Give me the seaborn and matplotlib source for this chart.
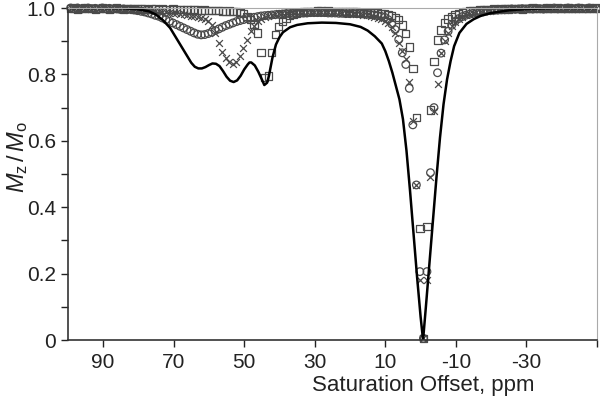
import numpy as np
import matplotlib
matplotlib.use('Agg')
import matplotlib.pyplot as plt
import seaborn as sns

# Saturation offsets (ppm) at which the three measured series were sampled
offsets = np.arange(99.2, -50.0, -1.0)

# Open circles
circles = [
    1.0, 0.998, 1.0, 0.997, 0.999, 1.0, 0.998, 0.999, 0.997, 1.0,
    0.998, 0.999, 0.997, 0.998, 0.996, 0.997, 0.995, 0.996, 0.994, 0.992,
    0.99, 0.988, 0.985, 0.982, 0.978, 0.975, 0.97, 0.965, 0.96, 0.955,
    0.95, 0.945, 0.94, 0.935, 0.93, 0.925, 0.921, 0.919, 0.92, 0.923,
    0.927, 0.932, 0.937, 0.942, 0.947, 0.951, 0.955, 0.959, 0.962, 0.965,
    0.968, 0.97, 0.972, 0.974, 0.976, 0.977, 0.978, 0.979, 0.98, 0.981,
    0.982, 0.983, 0.983, 0.984, 0.984, 0.985, 0.985, 0.985, 0.986, 0.986,
    0.986, 0.986, 0.986, 0.985, 0.985, 0.985, 0.984, 0.984, 0.983, 0.983,
    0.984, 0.983, 0.983, 0.982, 0.981, 0.98, 0.979, 0.977, 0.975, 0.972,
    0.965, 0.952, 0.935, 0.905, 0.865, 0.83, 0.758, 0.648, 0.467, 0.206,
    0.005, 0.206, 0.504, 0.70, 0.805, 0.864, 0.904, 0.93, 0.948, 0.96,
    0.968, 0.974, 0.978, 0.981, 0.984, 0.986, 0.988, 0.99, 0.991, 0.992,
    0.993, 0.994, 0.995, 0.995, 0.996, 0.997, 0.996, 0.997, 0.998, 0.997,
    0.998, 0.997, 0.999, 0.998, 0.997, 0.999, 0.998, 1.0, 0.998, 0.999,
    0.998, 1.0, 0.999, 0.998, 1.0, 0.999, 0.998, 1.0, 0.999, 0.998,
]

# Crosses
crosses = [
    0.999, 1.0, 0.998, 0.999, 0.997, 1.0, 0.999, 0.998, 1.0, 0.998,
    0.999, 0.998, 0.997, 0.999, 0.998, 0.997, 0.998, 0.997, 0.996, 0.997,
    0.996, 0.995, 0.994, 0.993, 0.992, 0.99, 0.989, 0.988, 0.986, 0.985,
    0.984, 0.983, 0.981, 0.979, 0.977, 0.975, 0.973, 0.97, 0.966, 0.96,
    0.95, 0.925, 0.895, 0.868, 0.848, 0.836, 0.83, 0.838, 0.855, 0.88,
    0.905, 0.93, 0.947, 0.96, 0.968, 0.973, 0.977, 0.98, 0.982, 0.984,
    0.985, 0.986, 0.987, 0.987, 0.988, 0.988, 0.988, 0.989, 0.989, 0.989,
    0.989, 0.989, 0.988, 0.988, 0.988, 0.987, 0.987, 0.986, 0.985, 0.984,
    0.983, 0.982, 0.981, 0.98, 0.978, 0.976, 0.974, 0.971, 0.967, 0.962,
    0.955, 0.942, 0.925, 0.895, 0.87, 0.846, 0.778, 0.66, 0.467, 0.18,
    0.005, 0.18, 0.49, 0.69, 0.77, 0.865, 0.90, 0.925, 0.945, 0.958,
    0.967, 0.973, 0.978, 0.982, 0.985, 0.987, 0.989, 0.99, 0.991, 0.992,
    0.993, 0.994, 0.994, 0.995, 0.996, 0.996, 0.997, 0.996, 0.997, 0.998,
    0.997, 0.998, 0.999, 0.997, 0.998, 0.999, 1.0, 0.998, 0.999, 0.998,
    1.0, 0.999, 0.998, 1.0, 0.999, 0.998, 0.999, 1.0, 0.998, 0.999,
]

# Open squares
squares = [
    0.998, 1.0, 0.997, 0.999, 1.0, 0.998, 0.999, 0.997, 0.998, 1.0,
    0.999, 0.997, 0.998, 1.0, 0.998, 0.997, 0.999, 0.998, 0.997, 0.998,
    0.997, 0.998, 0.996, 0.997, 0.998, 0.996, 0.997, 0.995, 0.996, 0.997,
    0.996, 0.995, 0.996, 0.995, 0.994, 0.995, 0.994, 0.993, 0.994, 0.993,
    0.992, 0.993, 0.992, 0.991, 0.99, 0.991, 0.99, 0.989, 0.987, 0.983,
    0.975, 0.965, 0.95, 0.925, 0.865, 0.79, 0.795, 0.865, 0.92, 0.945,
    0.96, 0.97, 0.977, 0.981, 0.984, 0.986, 0.988, 0.989, 0.99, 0.99,
    0.991, 0.991, 0.99, 0.991, 0.99, 0.99, 0.989, 0.99, 0.989, 0.989,
    0.988, 0.988, 0.987, 0.987, 0.986, 0.986, 0.985, 0.985, 0.984, 0.983,
    0.981, 0.978, 0.972, 0.965, 0.949, 0.924, 0.883, 0.818, 0.671, 0.336,
    0.005, 0.341, 0.693, 0.838, 0.904, 0.934, 0.955, 0.967, 0.975, 0.98,
    0.984, 0.987, 0.989, 0.991, 0.992, 0.993, 0.994, 0.995, 0.995, 0.996,
    0.997, 0.996, 0.997, 0.998, 0.997, 0.998, 0.999, 0.998, 0.997, 0.999,
    0.998, 1.0, 0.999, 0.998, 0.999, 1.0, 0.998, 0.999, 1.0, 0.998,
    0.999, 1.0, 0.998, 0.999, 1.0, 0.999, 0.998, 1.0, 0.999, 1.0,
]

# Solid simulated curve
fit_ppm = [
    100, 90, 84, 80, 77, 75, 73, 71, 69, 67, 65, 64, 63, 62, 61, 60, 59, 58,
    57, 56, 55, 54, 53, 52, 51, 50, 49, 48.5, 48, 47, 46, 45, 44.3, 43.5, 43,
    42, 41, 40, 39, 37, 35, 32, 28, 24, 20, 17, 15, 13, 11, 10, 9, 8, 7, 6, 5,
    4, 3, 2, 1, 0, -0.7, -1.5, -2.5, -3.5, -4.5, -5.5, -6.5, -7.5, -8.5, -9.5,
    -11, -13, -15, -17, -20, -25, -30, -40, -50,
]
fit_mz = [
    1.0, 1.0, 0.999, 0.996, 0.99, 0.98, 0.963, 0.94, 0.905, 0.87, 0.835, 0.823,
    0.818, 0.818, 0.822, 0.828, 0.833, 0.832, 0.825, 0.81, 0.793, 0.781, 0.777,
    0.782, 0.796, 0.815, 0.83, 0.836, 0.836, 0.827, 0.808, 0.785, 0.768, 0.775,
    0.795, 0.85, 0.89, 0.912, 0.927, 0.942, 0.949, 0.954, 0.956, 0.955, 0.951,
    0.943, 0.932, 0.915, 0.893, 0.87, 0.84, 0.805, 0.765, 0.725, 0.665, 0.57,
    0.45, 0.32, 0.19, 0.07, 0.0, 0.1, 0.23, 0.36, 0.49, 0.61, 0.71, 0.785,
    0.84, 0.885, 0.925, 0.952, 0.966, 0.976, 0.985, 0.993, 0.997, 1.0, 1.0,
]

sns.set_style("ticks")
plt.rcParams['font.family'] = ['Liberation Sans', 'DejaVu Sans']
plt.rcParams['axes.unicode_minus'] = False
plt.rcParams['mathtext.fontset'] = 'custom'
plt.rcParams['mathtext.it'] = 'Liberation Sans:italic'
plt.rcParams['mathtext.rm'] = 'Liberation Sans'

fig = plt.figure(figsize=(6, 4), dpi=100)
ax = fig.add_axes([0.113, 0.15, 0.882, 0.83])

mk = '#4a4a4a'
sns.scatterplot(x=offsets, y=circles, ax=ax, marker='o', s=30,
                facecolors='none', edgecolor=mk, linewidth=0.9, clip_on=False)
sns.scatterplot(x=offsets, y=crosses, ax=ax, marker='x', s=24,
                color=mk, linewidth=0.9, clip_on=False)
sns.scatterplot(x=offsets, y=squares, ax=ax, marker='s', s=28,
                facecolors='none', edgecolor=mk, linewidth=0.9, clip_on=False)
sns.lineplot(x=fit_ppm, y=fit_mz, ax=ax, color='black', linewidth=1.8,
             sort=False, estimator=None)

ax.set_xlim(100, -50)
ax.set_ylim(0, 1.0)
ax.set_xticks([90, 70, 50, 30, 10, -10, -30])
ax.set_xticks([-50], minor=True)
ax.set_yticks([0, 0.2, 0.4, 0.6, 0.8, 1.0])
ax.set_yticklabels(['0', '0.2', '0.4', '0.6', '0.8', '1.0'])
ax.set_yticks([0.1, 0.3, 0.5, 0.7, 0.9], minor=True)
ax.tick_params(axis='both', which='both', direction='out', length=5,
               width=1, labelsize=15, colors='#222222')
ax.tick_params(axis='x', pad=4)

for side in ['top', 'right']:
    ax.spines[side].set_color('#aaaaaa')
    ax.spines[side].set_linewidth(0.8)
for side in ['left', 'bottom']:
    ax.spines[side].set_color('#333333')
    ax.spines[side].set_linewidth(1.2)

ax.set_xlabel('Saturation Offset, ppm', fontsize=16, color='#222222')
ax.xaxis.set_label_coords(0.671, -0.105)
ax.set_ylabel(r'$M_\mathrm{z}\,/\,M_\mathrm{o}$', fontsize=17, color='#222222')
ax.yaxis.set_label_coords(-0.072, 0.55)

fig.savefig('out.png', dpi=100)
